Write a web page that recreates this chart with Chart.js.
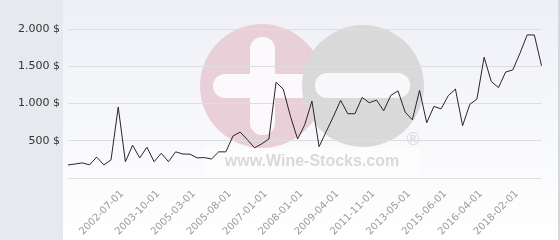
<!DOCTYPE html>
<html>
<head>
<meta charset="utf-8">
<title>Wine price</title>
<script src="https://cdn.jsdelivr.net/npm/chart.js@4/dist/chart.umd.min.js"></script>
<style>
  html, body { margin: 0; padding: 0; background: #ffffff; }
  #wrap { width: 560px; height: 240px; }
</style>
</head>
<body>
<div id="wrap"><canvas id="price-chart" width="560" height="240"></canvas></div>
<script>
// price per bottle, one point per listing
const PRICES = [
  175, 188, 203, 176, 280, 176, 243, 953, 217, 440,
  270, 413, 219, 332, 219, 351, 322, 320, 270, 274,
  255, 351, 351, 564, 617, 514, 405, 458, 523, 1285,
  1194, 830, 523, 715, 1032, 420, 625, 827, 1042, 863,
  863, 1082, 1010, 1046, 903, 1109, 1170, 883, 782, 1176,
  742, 961, 928, 1105, 1194, 702, 988, 1060, 1622, 1295,
  1214, 1422, 1451, 1675, 1920, 1920, 1507,
];

// only every fifth date is printed on the axis, starting at the 8th point
const TICK_DATES = [
  "2002-07-01", "2003-10-01", "2005-03-01", "2005-08-01",
  "2007-01-01", "2008-01-01", "2009-04-01", "2011-11-01",
  "2013-05-01", "2015-06-01", "2016-04-01", "2018-02-01",
];
const FIRST_TICK = 7;
const TICK_STEP = 5;

const Y_MAX = 2000;
const Y_STEP = 500;

const LINE_COLOR = "#2e2228";
const PANEL_COLOR = "#e6eaee";
const GRID_COLOR = "#dedede";

function buildLabels() {
  return PRICES.map((_, i) => {
    const k = i - FIRST_TICK;
    if (k >= 0 && k % TICK_STEP === 0) {
      return TICK_DATES[k / TICK_STEP] ?? "";
    }
    return "";
  });
}

function formatPrice(value) {
  if (value === 0) return "";
  const text = String(value).replace(/\B(?=(\d{3})+(?!\d))/g, ".");
  return `${text} $`;
}

function roundedBar(ctx, x, y, w, h, r) {
  ctx.beginPath();
  ctx.roundRect(x, y, w, h, r);
  ctx.fill();
}

// page background + the wine-stocks watermark behind the grid
const backdrop = {
  id: "backdrop",
  beforeDraw(chart) {
    const { ctx, width, height } = chart;
    ctx.save();
    ctx.fillStyle = PANEL_COLOR;
    ctx.fillRect(0, 0, width, height);

    const grad = ctx.createLinearGradient(0, 0, 0, height);
    grad.addColorStop(0, "#eef0f6");
    grad.addColorStop(1, "#ffffff");
    ctx.fillStyle = grad;
    ctx.fillRect(63, 0, 495, height);
    ctx.fillStyle = "#d4d8dc";
    ctx.fillRect(558, 0, 2, height);

    // pink circle with plus
    ctx.fillStyle = "#e9d0d8";
    ctx.beginPath();
    ctx.arc(262, 86, 62, 0, Math.PI * 2);
    ctx.fill();
    ctx.fillStyle = "#fbf9fb";
    roundedBar(ctx, 250, 37, 25, 98, 12);
    roundedBar(ctx, 213, 74, 100, 24, 12);

    // grey circle with minus
    ctx.fillStyle = "#d9d9d9";
    ctx.beginPath();
    ctx.arc(363, 86, 61, 0, Math.PI * 2);
    ctx.fill();
    ctx.fillStyle = "#f8f8fa";
    roundedBar(ctx, 315, 73, 95, 25, 12);

    ctx.fillStyle = "rgba(255,255,255,0.55)";
    ctx.fillRect(205, 148, 215, 27);
    ctx.fillStyle = "#d9d9d9";
    ctx.font = "bold 16px 'Liberation Sans', Arial, sans-serif";
    ctx.textAlign = "center";
    ctx.textBaseline = "alphabetic";
    ctx.fillText("www.Wine-Stocks.com", 312, 166);
    ctx.font = "17px 'DejaVu Sans', sans-serif";
    ctx.fillText("\u00AE", 413, 145);
    ctx.restore();
  },
};

function buildChart() {
  const canvas = document.getElementById("price-chart");
  return new Chart(canvas, {
    type: "line",
    data: {
      labels: buildLabels(),
      datasets: [
        {
          data: PRICES,
          borderColor: LINE_COLOR,
          borderWidth: 1,
          pointRadius: 0,
          tension: 0,
          fill: false,
        },
      ],
    },
    options: {
      responsive: false,
      animation: false,
      layout: {
        padding: { top: 29, right: 5, left: 0, bottom: 0 },
      },
      plugins: {
        legend: { display: false },
        tooltip: { enabled: false },
      },
      scales: {
        x: {
          offset: false,
          grid: { display: false, drawTicks: false },
          border: { display: false },
          afterFit(scale) {
            scale.height = 62;
          },
          ticks: {
            autoSkip: false,
            minRotation: 45,
            maxRotation: 45,
            padding: 10,
            labelOffset: 4,
            color: "#9a9a9a",
            font: { family: "'DejaVu Sans', Verdana, sans-serif", size: 10 },
          },
        },
        y: {
          min: 0,
          max: Y_MAX,
          grid: { color: GRID_COLOR, drawTicks: false },
          border: { display: false },
          afterFit(scale) {
            scale.width = 68;
          },
          ticks: {
            stepSize: Y_STEP,
            padding: 8,
            color: "#333333",
            font: { family: "'DejaVu Sans', Verdana, sans-serif", size: 11 },
            callback(value) {
              return formatPrice(value);
            },
          },
        },
      },
    },
    plugins: [backdrop],
  });
}

buildChart();
</script>
</body>
</html>
